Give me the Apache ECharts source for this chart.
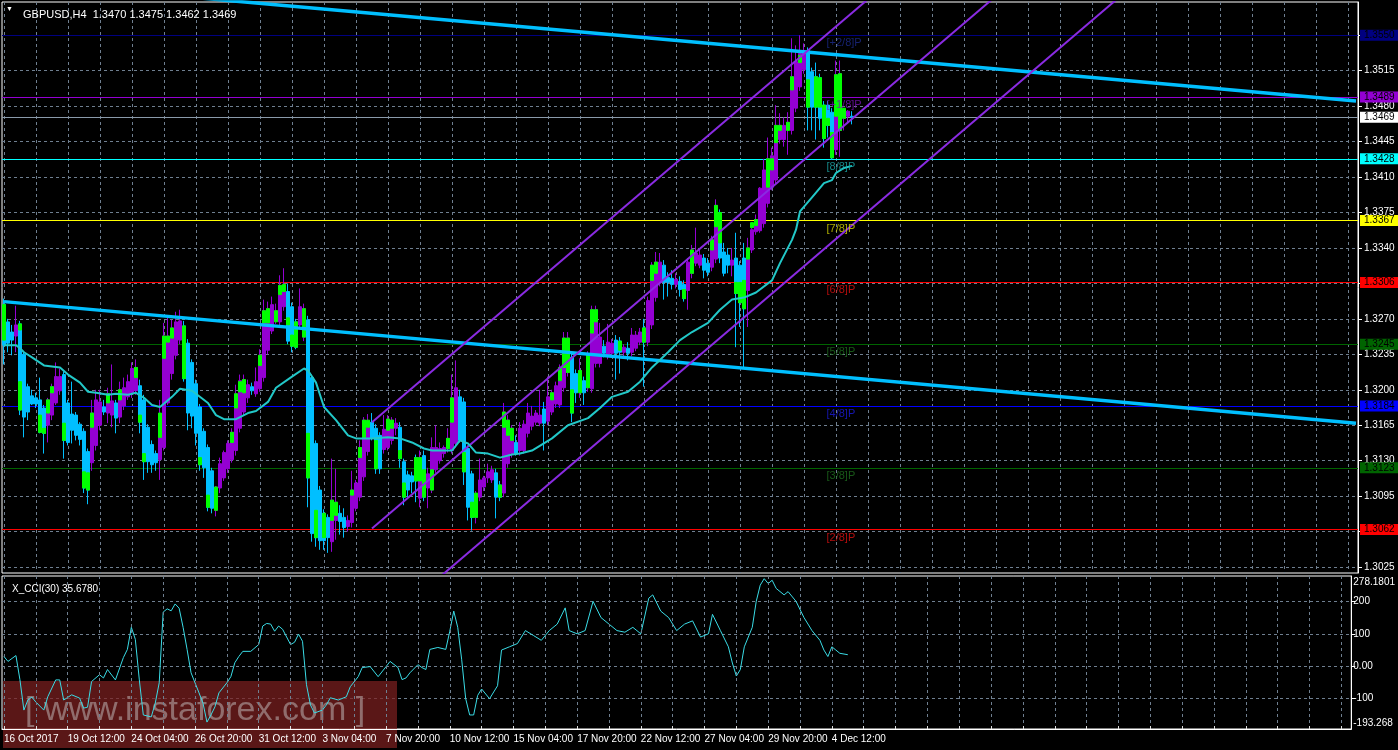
<!DOCTYPE html>
<html>
<head>
<meta charset="utf-8">
<script src="https://cdn.jsdelivr.net/npm/echarts@6/dist/echarts.min.js"></script>
<style>
html,body{margin:0;padding:0;background:#000;}
#chart{width:1398px;height:750px;}
</style>
</head>
<body>
<div id="chart"></div>
<script>
// ---------------- DATA ----------------
const symbolTitle = 'GBPUSD,H4  1.3470 1.3475 1.3462 1.3469';
const cciTitle = 'X_CCI(30) 35.6780';
const firstBarUTC = Date.UTC(2017, 9, 16, 20); // 16 Oct 2017 20:00
const totalSlots = 339;      // bars + empty space to the right
const lastBarIndex = 212;

// [open, high, low, close]
const ohlc = [
[1.3284,1.3290,1.3225,1.3244],[1.3267,1.3270,1.3237,1.3246],[1.3257,1.3264,1.3234,1.3249],[1.3253,1.3283,1.3237,1.3264],
[1.3265,1.3268,1.3175,1.3180],[1.3235,1.3238,1.3153,1.3173],[1.3203,1.3206,1.3170,1.3178],[1.3194,1.3200,1.3185,1.3186],
[1.3192,1.3197,1.3182,1.3186],[1.3190,1.3212,1.3157,1.3158],[1.3182,1.3185,1.3137,1.3157],[1.3165,1.3192,1.3148,1.3190],
[1.3175,1.3206,1.3170,1.3203],[1.3187,1.3227,1.3185,1.3213],[1.3199,1.3221,1.3195,1.3213],[1.3215,1.3218,1.3132,1.3150],
[1.3187,1.3190,1.3145,1.3148],[1.3176,1.3208,1.3147,1.3160],[1.3175,1.3178,1.3150,1.3155],[1.3166,1.3168,1.3145,1.3151],
[1.3159,1.3162,1.3098,1.3103],[1.3139,1.3142,1.3087,1.3101],[1.3128,1.3190,1.3120,1.3177],[1.3145,1.3200,1.3140,1.3190],
[1.3165,1.3200,1.3160,1.3188],[1.3183,1.3190,1.3175,1.3178],[1.3177,1.3202,1.3167,1.3196],[1.3175,1.3225,1.3163,1.3189],
[1.3187,1.3190,1.3157,1.3172],[1.3173,1.3208,1.3167,1.3200],[1.3184,1.3212,1.3180,1.3202],[1.3193,1.3215,1.3190,1.3208],
[1.3197,1.3227,1.3192,1.3221],[1.3199,1.3230,1.3195,1.3222],[1.3204,1.3210,1.3157,1.3168],[1.3190,1.3195,1.3111,1.3129],
[1.3163,1.3166,1.3118,1.3129],[1.3146,1.3150,1.3118,1.3126],[1.3137,1.3140,1.3120,1.3128],[1.3131,1.3190,1.3111,1.3175],
[1.3143,1.3266,1.3140,1.3253],[1.3187,1.3271,1.3185,1.3253],[1.3216,1.3269,1.3210,1.3261],[1.3234,1.3277,1.3230,1.3267],
[1.3249,1.3279,1.3245,1.3268],[1.3263,1.3268,1.3208,1.3211],[1.3246,1.3250,1.3160,1.3177],[1.3227,1.3230,1.3162,1.3174],
[1.3206,1.3210,1.3145,1.3157],[1.3183,1.3186,1.3120,1.3126],[1.3159,1.3162,1.3113,1.3123],[1.3143,1.3146,1.3080,1.3084],
[1.3120,1.3123,1.3078,1.3083],[1.3081,1.3105,1.3075,1.3104],[1.3103,1.3133,1.3098,1.3127],[1.3113,1.3140,1.3110,1.3138],
[1.3122,1.3150,1.3118,1.3147],[1.3131,1.3162,1.3128,1.3158],[1.3140,1.3205,1.3135,1.3196],[1.3162,1.3215,1.3158,1.3209],
[1.3178,1.3215,1.3175,1.3210],[1.3192,1.3210,1.3187,1.3205],[1.3203,1.3207,1.3195,1.3199],[1.3196,1.3222,1.3193,1.3208],
[1.3201,1.3240,1.3198,1.3234],[1.3212,1.3289,1.3208,1.3278],[1.3239,1.3287,1.3235,1.3280],[1.3258,1.3292,1.3255,1.3284],
[1.3270,1.3285,1.3265,1.3278],[1.3267,1.3313,1.3263,1.3303],[1.3282,1.3320,1.3278,1.3300],[1.3297,1.3305,1.3245,1.3248],
[1.3282,1.3286,1.3237,1.3243],[1.3267,1.3270,1.3240,1.3242],[1.3264,1.3300,1.3260,1.3282],[1.3252,1.3285,1.3248,1.3280],
[1.3269,1.3273,1.3084,1.3113],[1.3212,1.3215,1.3050,1.3058],[1.3147,1.3150,1.3045,1.3054],[1.3101,1.3105,1.3042,1.3051],
[1.3078,1.3082,1.3042,1.3051],[1.3074,1.3077,1.3039,1.3054],[1.3050,1.3132,1.3040,1.3091],[1.3071,1.3122,1.3052,1.3089],
[1.3078,1.3086,1.3057,1.3070],[1.3074,1.3083,1.3054,1.3064],[1.3065,1.3076,1.3060,1.3071],[1.3069,1.3120,1.3064,1.3101],
[1.3083,1.3111,1.3080,1.3108],[1.3094,1.3150,1.3090,1.3143],[1.3114,1.3173,1.3110,1.3170],[1.3139,1.3176,1.3135,1.3167],
[1.3168,1.3177,1.3150,1.3152],[1.3162,1.3166,1.3117,1.3122],[1.3155,1.3158,1.3117,1.3122],[1.3141,1.3175,1.3137,1.3161],
[1.3143,1.3175,1.3140,1.3171],[1.3150,1.3173,1.3146,1.3170],[1.3162,1.3172,1.3155,1.3167],[1.3163,1.3168,1.3123,1.3132],
[1.3129,1.3132,1.3086,1.3094],[1.3116,1.3120,1.3094,1.3101],[1.3115,1.3119,1.3098,1.3109],[1.3133,1.3136,1.3089,1.3110],
[1.3093,1.3140,1.3084,1.3133],[1.3135,1.3140,1.3090,1.3094],[1.3103,1.3123,1.3083,1.3117],[1.3101,1.3153,1.3098,1.3143],
[1.3121,1.3165,1.3118,1.3143],[1.3130,1.3148,1.3127,1.3142],[1.3137,1.3145,1.3133,1.3143],[1.3142,1.3162,1.3138,1.3152],
[1.3140,1.3215,1.3137,1.3192],[1.3147,1.3229,1.3143,1.3202],[1.3193,1.3200,1.3148,1.3150],[1.3188,1.3192,1.3106,1.3119],
[1.3142,1.3145,1.3071,1.3084],[1.3117,1.3120,1.3061,1.3074],[1.3074,1.3100,1.3068,1.3093],[1.3094,1.3132,1.3090,1.3111],
[1.3104,1.3115,1.3100,1.3113],[1.3113,1.3127,1.3108,1.3119],[1.3111,1.3125,1.3108,1.3121],[1.3118,1.3122,1.3073,1.3094],
[1.3106,1.3110,1.3090,1.3094],[1.3098,1.3187,1.3094,1.3178],[1.3127,1.3175,1.3123,1.3170],[1.3137,1.3165,1.3133,1.3162],
[1.3148,1.3155,1.3135,1.3137],[1.3140,1.3168,1.3135,1.3162],[1.3140,1.3170,1.3137,1.3166],[1.3157,1.3187,1.3153,1.3177],
[1.3164,1.3184,1.3160,1.3174],[1.3168,1.3180,1.3165,1.3177],[1.3167,1.3200,1.3164,1.3175],[1.3181,1.3188,1.3140,1.3167],
[1.3169,1.3213,1.3165,1.3193],[1.3178,1.3200,1.3175,1.3197],[1.3186,1.3208,1.3182,1.3204],[1.3185,1.3225,1.3182,1.3222],
[1.3202,1.3257,1.3198,1.3251],[1.3217,1.3257,1.3213,1.3251],[1.3232,1.3236,1.3168,1.3177],[1.3216,1.3220,1.3187,1.3197],
[1.3198,1.3231,1.3192,1.3219],[1.3209,1.3213,1.3185,1.3197],[1.3202,1.3238,1.3198,1.3234],[1.3201,1.3283,1.3197,1.3279],
[1.3226,1.3283,1.3222,1.3279],[1.3226,1.3266,1.3222,1.3252],[1.3243,1.3249,1.3232,1.3236],[1.3234,1.3265,1.3230,1.3247],
[1.3236,1.3250,1.3232,1.3246],[1.3249,1.3254,1.3210,1.3236],[1.3248,1.3252,1.3216,1.3237],[1.3237,1.3245,1.3233,1.3242],
[1.3241,1.3247,1.3229,1.3236],[1.3237,1.3261,1.3233,1.3254],[1.3241,1.3258,1.3238,1.3254],[1.3247,1.3261,1.3244,1.3257],
[1.3261,1.3270,1.3203,1.3247],[1.3247,1.3292,1.3243,1.3288],[1.3264,1.3326,1.3260,1.3323],[1.3291,1.3336,1.3287,1.3326],
[1.3306,1.3335,1.3302,1.3326],[1.3323,1.3328,1.3289,1.3306],[1.3311,1.3316,1.3292,1.3306],[1.3310,1.3318,1.3299,1.3304],
[1.3304,1.3315,1.3300,1.3309],[1.3307,1.3312,1.3292,1.3299],[1.3304,1.3308,1.3287,1.3290],[1.3298,1.3330,1.3279,1.3326],
[1.3315,1.3343,1.3310,1.3338],[1.3325,1.3360,1.3322,1.3335],[1.3323,1.3338,1.3320,1.3333],[1.3330,1.3334,1.3310,1.3318],
[1.3325,1.3330,1.3312,1.3316],[1.3321,1.3352,1.3317,1.3348],[1.3329,1.3388,1.3325,1.3382],[1.3375,1.3378,1.3325,1.3330],
[1.3336,1.3345,1.3312,1.3315],[1.3333,1.3340,1.3315,1.3323],[1.3323,1.3340,1.3312,1.3328],[1.3330,1.3355,1.3242,1.3295],
[1.3323,1.3327,1.3262,1.3286],[1.3330,1.3345,1.3222,1.3280],[1.3298,1.3350,1.3262,1.3340],[1.3338,1.3362,1.3335,1.3358],
[1.3356,1.3373,1.3353,1.3368],[1.3357,1.3400,1.3355,1.3399],[1.3364,1.3428,1.3360,1.3417],[1.3384,1.3449,1.3380,1.3428],
[1.3400,1.3439,1.3397,1.3431],[1.3407,1.3481,1.3403,1.3461],[1.3447,1.3473,1.3443,1.3461],[1.3447,1.3469,1.3440,1.3461],
[1.3457,1.3474,1.3432,1.3464],[1.3456,1.3547,1.3452,1.3509],[1.3478,1.3540,1.3474,1.3524],[1.3499,1.3550,1.3495,1.3532],
[1.3516,1.3542,1.3512,1.3535],[1.3535,1.3538,1.3456,1.3479],[1.3514,1.3518,1.3456,1.3479],[1.3509,1.3523,1.3447,1.3479],
[1.3508,1.3512,1.3456,1.3468],[1.3481,1.3485,1.3439,1.3448],[1.3481,1.3485,1.3449,1.3461],[1.3474,1.3478,1.3427,1.3429],
[1.3437,1.3525,1.3432,1.3511],[1.3456,1.3525,1.3430,1.3512],[1.3468,1.3478,1.3456,1.3476],[1.3470,1.3476,1.3463,1.3475],
[1.3470,1.3475,1.3462,1.3469]
];

// visible green (real-candle) body segments [barIndex, top, bottom]
const greenBodies = [
[0,1.3284,1.3249],[4,1.3265,1.3259],[4,1.3208,1.3180],[9,1.3175,1.3158],[10,1.3162,1.3157],[11,1.3190,1.3177],[12,1.3203,1.3197],
[15,1.3167,1.3150],[20,1.3119,1.3103],[21,1.3118,1.3101],[22,1.3177,1.3163],[26,1.3196,1.3187],[29,1.3200,1.3190],[33,1.3222,1.3212],
[34,1.3175,1.3168],[35,1.3137,1.3129],[39,1.3177,1.3153],[40,1.3253,1.3231],[41,1.3253,1.3247],[42,1.3261,1.3251],[45,1.3263,1.3211],
[49,1.3133,1.3126],[51,1.3096,1.3084],[53,1.3104,1.3081],[57,1.3158,1.3148],[58,1.3196,1.3182],[59,1.3208,1.3198],[60,1.3210,1.3197],
[64,1.3234,1.3224],[65,1.3278,1.3266],[66,1.3280,1.3266],[68,1.3278,1.3267],[69,1.3303,1.3294],[70,1.3304,1.3297],[71,1.3271,1.3264],
[72,1.3254,1.3243],[73,1.3267,1.3242],[75,1.3280,1.3252],[76,1.3157,1.3113],[78,1.3081,1.3054],[80,1.3078,1.3054],[82,1.3091,1.3071],
[83,1.3089,1.3076],[87,1.3101,1.3096],[89,1.3143,1.3133],[90,1.3170,1.3153],[91,1.3170,1.3163],[93,1.3150,1.3122],[96,1.3171,1.3160],
[97,1.3170,1.3162],[99,1.3140,1.3132],[100,1.3108,1.3094],[103,1.3133,1.3110],[104,1.3133,1.3110],[105,1.3121,1.3094],[107,1.3121,1.3101],
[111,1.3152,1.3142],[112,1.3192,1.3168],[115,1.3138,1.3119],[117,1.3089,1.3074],[118,1.3098,1.3074],[124,1.3106,1.3094],[125,1.3178,1.3163],
[126,1.3170,1.3155],[127,1.3162,1.3150],[137,1.3197,1.3190],[139,1.3222,1.3209],[140,1.3251,1.3222],[141,1.3251,1.3217],[142,1.3200,1.3177],
[144,1.3219,1.3197],[146,1.3234,1.3202],[147,1.3279,1.3256],[148,1.3279,1.3267],[154,1.3248,1.3239],[160,1.3261,1.3247],[162,1.3323,1.3308],
[163,1.3326,1.3315],[170,1.3299,1.3290],[172,1.3338,1.3315],[177,1.3348,1.3338],[178,1.3382,1.3361],[179,1.3375,1.3345],[183,1.3306,1.3295],
[184,1.3306,1.3286],[185,1.3308,1.3280],[186,1.3340,1.3329],[187,1.3365,1.3360],[188,1.3368,1.3362],[191,1.3428,1.3400],[192,1.3428,1.3417],
[193,1.3461,1.3444],[194,1.3461,1.3456],[196,1.3464,1.3456],[197,1.3509,1.3496],[199,1.3530,1.3523],[201,1.3506,1.3479],[203,1.3509,1.3479],
[204,1.3508,1.3479],[205,1.3481,1.3448],[206,1.3468,1.3461],[207,1.3454,1.3429],[208,1.3511,1.3470],[209,1.3512,1.3456],[210,1.3478,1.3468]
];

// moving average (cyan) [barIndex, price]
const maLine = [
[0,1.3244],[3,1.3244],[4,1.3241],[5,1.3237],[7,1.3232],[10,1.3224],[12,1.3223],[14,1.3222],[16,1.3215],[19,1.3207],
[21,1.3198],[23,1.3197],[26,1.3195],[28,1.3196],[31,1.3195],[33,1.3197],[35,1.3192],[37,1.3185],[39,1.3183],[42,1.3193],
[44,1.3201],[47,1.3199],[51,1.3187],[53,1.3175],[55,1.3171],[58,1.3171],[61,1.3177],[63,1.3179],[66,1.3188],[68,1.3202],
[72,1.3213],[75,1.3221],[76,1.3219],[78,1.3207],[80,1.3183],[83,1.3170],[86,1.3155],[88,1.3152],[92,1.3152],[96,1.3153],
[99,1.3152],[102,1.3148],[105,1.3142],[107,1.3140],[112,1.3140],[114,1.3150],[116,1.3147],[118,1.3138],[121,1.3137],[124,1.3133],
[127,1.3136],[129,1.3137],[132,1.3140],[137,1.3152],[141,1.3165],[146,1.3172],[149,1.3182],[152,1.3193],[156,1.3198],[159,1.3208],
[162,1.3222],[166,1.3237],[169,1.3249],[172,1.3257],[176,1.3266],[179,1.3279],[182,1.3289],[185,1.3291],[188,1.3296],[192,1.3308],
[194,1.3325],[197,1.3348],[198,1.3358],[199,1.3376],[202,1.3390],[205,1.3404],[207,1.3407],[208,1.3414],[210,1.3419],[212,1.3421]
];

// CCI(30) [barIndex, value]
const cciLine = [
[0,30],[1,15],[3,33],[4,-41],[5,-135],[6,-104],[7,-95],[8,-110],[10,-135],[11,-94],[13,-42],[14,-42],[15,-104],[17,-88],
[19,-98],[20,-129],[21,-126],[22,-47],[24,-26],[25,-36],[26,-10],[28,-42],[30,27],[31,52],[32,120],[33,83],[34,-42],[35,-150],
[37,-156],[38,-114],[39,-51],[40,167],[41,177],[42,171],[43,192],[44,179],[45,120],[46,52],[47,-20],[49,-82],[50,-114],[51,-172],
[52,-150],[53,-125],[54,-82],[56,-51],[57,-32],[58,11],[59,30],[60,46],[62,46],[64,67],[65,124],[66,132],[67,130],[68,108],
[69,124],[70,114],[72,67],[73,74],[74,99],[75,77],[76,-57],[77,-119],[78,-144],[80,-135],[81,-119],[82,-97],[84,-104],[86,-94],
[87,-63],[89,-32],[90,-4],[92,-1],[94,-32],[96,-1],[97,15],[99,-4],[100,-41],[101,-36],[102,-20],[104,5],[105,-4],[106,-10],
[107,52],[109,58],[111,52],[112,108],[113,170],[114,120],[115,20],[116,-100],[117,-150],[118,-150],[119,-90],[120,-70],[122,-100],
[124,-60],[125,50],[127,60],[129,70],[131,110],[133,95],[135,80],[137,110],[139,130],[141,180],[142,110],[144,100],[146,110],
[148,200],[150,150],[152,130],[154,110],[156,105],[158,120],[160,100],[162,210],[163,220],[165,170],[167,150],[169,110],[171,130],
[173,140],[175,90],[177,100],[178,160],[180,110],[182,60],[183,10],[184,-30],[185,-10],[186,60],[188,120],[189,200],[190,250],
[191,270],[192,255],[193,265],[194,240],[196,220],[197,230],[199,200],[201,150],[203,110],[205,80],[206,50],[207,30],[208,60],
[209,50],[210,40],[212,35.678]
];

// trend lines & channel [barIndex, price]
const trendUpper = [[0, 1.3604], [338, 1.3485]];
const trendLower = [[0, 1.3287], [338, 1.3167]];
const channelUpper = [[92, 1.3168], [220, 1.3599]];
const channelMiddle = [[92, 1.3063], [338, 1.3892]];
const channelLower = [[92, 1.2958], [338, 1.3787]];

// Murray levels
const murrayValues = [1.3550, 1.3489, 1.3428, 1.3367, 1.3306, 1.3245, 1.3184, 1.3123, 1.3062];
const murrayNames = ['[+2/8]P', '[+1/8]P', '[8/8]P', '[7/8]P', '[6/8]P', '[5/8]P', '[4/8]P', '[3/8]P', '[2/8]P'];
const murrayLabelBar = 206;
const lastPrice = 1.3469;

// axis ticks
const priceTicks = [1.3025,1.3060,1.3095,1.3130,1.3165,1.3200,1.3235,1.3270,1.3305,1.3340,1.3375,1.3410,1.3445,1.3480,1.3515,1.3550];
const cciGridTicks = [200, 100, 0, -100];
const cciLabelTicks = [278.1801, 250, 200, 100, 0, -100, -193.268];
const cciMin = -193.268, cciMax = 278.1801;
const priceMin = 1.30191, priceMax = 1.35828;

// ---------------- STYLE ----------------
const murrayLineColors = ['#000080', '#9400D3', '#00FFFF', '#FFFF00', '#FF0000', '#006400', '#0000FF', '#006400', '#FF0000'];
const murrayTextColors = ['#1c2a8c', '#7a12b8', '#1aa8a8', '#d6d600', '#e01010', '#1e6e1e', '#1c1ce0', '#1e6e1e', '#e01010'];
const FONT = '"Liberation Sans", Arial, sans-serif';
const gridColor = '#6f7f90';

// categories (H4 bar times, weekends skipped)
const months = ['Jan','Feb','Mar','Apr','May','Jun','Jul','Aug','Sep','Oct','Nov','Dec'];
function buildCategories() {
  const out = [];
  let t = firstBarUTC;
  while (out.length < totalSlots) {
    const d = new Date(t);
    const wd = d.getUTCDay();
    if (wd !== 0 && wd !== 6) {
      const hh = String(d.getUTCHours()).padStart(2, '0');
      out.push(out.length === 0 ? d.getUTCDate() + ' ' + months[d.getUTCMonth()] + ' ' + d.getUTCFullYear()
                                : d.getUTCDate() + ' ' + months[d.getUTCMonth()] + ' ' + hh + ':00');
    }
    t += 4 * 3600 * 1000;
  }
  return out;
}
const categories = buildCategories();

const candleData = ohlc.map(r => [r[0], r[3], r[2], r[1]]);
// green series: one slot per bar, empty where no green is visible
function buildGreenSeriesData(segIndexStart) {
  const arr = new Array(lastBarIndex + 1).fill('-');
  const used = new Set();
  greenBodies.forEach((g, k) => {
    if (k < segIndexStart) return;
    if (arr[g[0]] === '-' ) { arr[g[0]] = [g[2], g[1], g[2], g[1]]; used.add(k); }
  });
  return {arr, used};
}
const greenA = new Array(lastBarIndex + 1).fill('-');
const greenB = new Array(lastBarIndex + 1).fill('-');
greenBodies.forEach(g => {
  const target = greenA[g[0]] === '-' ? greenA : greenB;
  target[g[0]] = [g[2], g[1], g[2], g[1]];
});

const chart = echarts.init(document.getElementById('chart'), null, {renderer: 'canvas'});

const markLineData = murrayValues.map((v, i) => ({
  yAxis: v,
  lineStyle: {color: murrayLineColors[i], width: 1, type: 'solid'},
  label: {show: true, position: 'end', distance: 2, formatter: v.toFixed(4), color: '#000',
          backgroundColor: murrayLineColors[i], padding: [1, 4, 0, 4], fontSize: 10, fontFamily: FONT}
}));
markLineData.push({
  yAxis: lastPrice,
  lineStyle: {color: '#8a9aaa', width: 1, type: 'solid'},
  label: {show: true, position: 'end', distance: 2, formatter: lastPrice.toFixed(4), color: '#000',
          backgroundColor: '#ffffff', padding: [1, 4, 0, 4], fontSize: 10, fontFamily: FONT}
});

const greenStyle = {color: '#00FF00', color0: '#00FF00', borderColor: '#00FF00', borderColor0: '#00FF00', borderWidth: 1};

const option = {
  backgroundColor: '#000',
  animation: false,
  title: [
    {text: symbolTitle, left: 18, top: 4, textStyle: {color: '#fff', fontSize: 11, fontWeight: 'normal', fontFamily: FONT}},
    {text: cciTitle, left: 7, top: 579, textStyle: {color: '#fff', fontSize: 10, fontWeight: 'normal', fontFamily: FONT}}
  ],
  graphic: [
    {type: 'text', left: 6, top: 6, z: 10, style: {text: '▼', fill: '#fff', fontSize: 7}},
    {type: 'rect', left: 3, top: 681, z: 1, shape: {width: 394, height: 67}, style: {fill: 'rgba(125,32,32,0.72)'}},
    {type: 'text', left: 25, top: 694, z: 1, style: {text: '[ www.instaforex.com ]', fill: 'rgba(190,180,180,0.55)', fontSize: 34, fontFamily: FONT}}
  ],
  grid: [
    {left: 2, top: 2, width: 1356, height: 571, show: true, borderColor: '#fff', borderWidth: 1, backgroundColor: 'transparent'},
    {left: 2, top: 576, width: 1356, height: 153, show: true, borderColor: '#fff', borderWidth: 1, backgroundColor: 'transparent'}
  ],
  xAxis: [
    {type: 'category', gridIndex: 0, data: categories, boundaryGap: true,
     axisLine: {show: false, onZero: false}, axisTick: {show: false}, axisLabel: {show: false},
     splitLine: {show: true, interval: 7, alignWithLabel: true, lineStyle: {color: gridColor, type: [3, 3], width: 1}}},
    {type: 'category', gridIndex: 1, data: categories, boundaryGap: true, z: 6,
     axisLine: {show: true, onZero: false, lineStyle: {color: '#fff'}},
     axisTick: {show: true, inside: true, length: 3, interval: 7, alignWithLabel: true, lineStyle: {color: '#ddd'}},
     axisLabel: {show: true, color: '#fff', fontSize: 10, fontFamily: FONT, align: 'left', margin: 5,
                 interval: (idx) => idx % 16 === 0 && idx <= lastBarIndex, hideOverlap: false},
     splitLine: {show: true, interval: 7, alignWithLabel: true, lineStyle: {color: gridColor, type: [3, 3], width: 1}}}
  ],
  yAxis: [
    {type: 'value', gridIndex: 0, position: 'right', min: priceMin, max: priceMax, scale: true,
     axisLine: {show: true, lineStyle: {color: '#fff'}},
     axisTick: {show: true, length: 4, customValues: priceTicks, lineStyle: {color: '#fff'}},
     axisLabel: {show: true, customValues: priceTicks, color: '#fff', fontSize: 10, fontFamily: FONT, margin: 6,
                 formatter: v => v.toFixed(4)},
     splitLine: {show: true, lineStyle: {color: gridColor, type: [3, 3], width: 1}}},
    {type: 'value', gridIndex: 1, position: 'right', min: cciMin, max: cciMax,
     axisLine: {show: true, lineStyle: {color: '#fff'}},
     axisTick: {show: true, length: 4, customValues: cciGridTicks, lineStyle: {color: '#fff'}},
     axisLabel: {show: true, customValues: cciLabelTicks, showMaxLabel: true, showMinLabel: true, hideOverlap: false,
                 color: '#fff', fontSize: 10, fontFamily: FONT, margin: 2,
                 formatter: v => {
                   if (Math.abs(v - cciMax) < 1e-6) return '{top|' + v.toFixed(4) + '}';
                   if (Math.abs(v - cciMin) < 1e-6) return '{bot|' + v.toFixed(3) + '}';
                   if (v === 0) return '0.00';
                   return String(v);
                 },
                 rich: {top: {padding: [12, 0, 0, 0], color: '#fff', fontSize: 10, fontFamily: FONT},
                        bot: {padding: [0, 0, 12, 0], color: '#fff', fontSize: 10, fontFamily: FONT}}},
     splitLine: {show: true, lineStyle: {color: gridColor, type: [3, 3], width: 1}}}
  ],
  series: [
    {type: 'candlestick', name: 'GBPUSD', xAxisIndex: 0, yAxisIndex: 0, data: candleData, barWidth: 3, z: 3,
     itemStyle: {color: '#9400D3', color0: '#00BFFF', borderColor: '#9400D3', borderColor0: '#00BFFF', borderWidth: 1},
     markLine: {silent: true, precision: 4, symbol: ['none', 'none'], z: 2, data: markLineData}},
    {type: 'candlestick', name: 'realA', xAxisIndex: 0, yAxisIndex: 0, data: greenA, barWidth: 3, z: 3, itemStyle: greenStyle},
    {type: 'candlestick', name: 'realB', xAxisIndex: 0, yAxisIndex: 0, data: greenB, barWidth: 3, z: 3, itemStyle: greenStyle},
    {type: 'line', name: 'trendUpper', data: trendUpper, showSymbol: false, z: 4, clip: true,
     lineStyle: {color: '#00BFFF', width: 3.5}},
    {type: 'line', name: 'trendLower', data: trendLower, showSymbol: false, z: 4, clip: true,
     lineStyle: {color: '#00BFFF', width: 3.5}},
    {type: 'line', name: 'chUp', data: channelUpper, showSymbol: false, z: 4, clip: true,
     lineStyle: {color: '#8A2BE2', width: 2}},
    {type: 'line', name: 'chMid', data: channelMiddle, showSymbol: false, z: 4, clip: true,
     lineStyle: {color: '#8A2BE2', width: 2}},
    {type: 'line', name: 'chLow', data: channelLower, showSymbol: false, z: 4, clip: true,
     lineStyle: {color: '#8A2BE2', width: 2}},
    {type: 'line', name: 'MA', data: maLine, showSymbol: false, z: 5, clip: true,
     lineStyle: {color: '#22C8C8', width: 2}},
    {type: 'scatter', name: 'murrayText', symbolSize: 1, itemStyle: {color: 'rgba(0,0,0,0)'}, z: 6,
     data: murrayValues.map((v, i) => ({value: [murrayLabelBar, v], name: murrayNames[i],
       label: {show: true, position: 'right', distance: 0, offset: [-2, 8], formatter: murrayNames[i],
               color: murrayTextColors[i], fontSize: 11, fontFamily: FONT}}))},
    {type: 'line', name: 'CCI', xAxisIndex: 1, yAxisIndex: 1, data: cciLine, showSymbol: false, z: 5, clip: true,
     lineStyle: {color: '#3ADCE6', width: 1}}
  ]
};
chart.setOption(option);
</script>
</body>
</html>
